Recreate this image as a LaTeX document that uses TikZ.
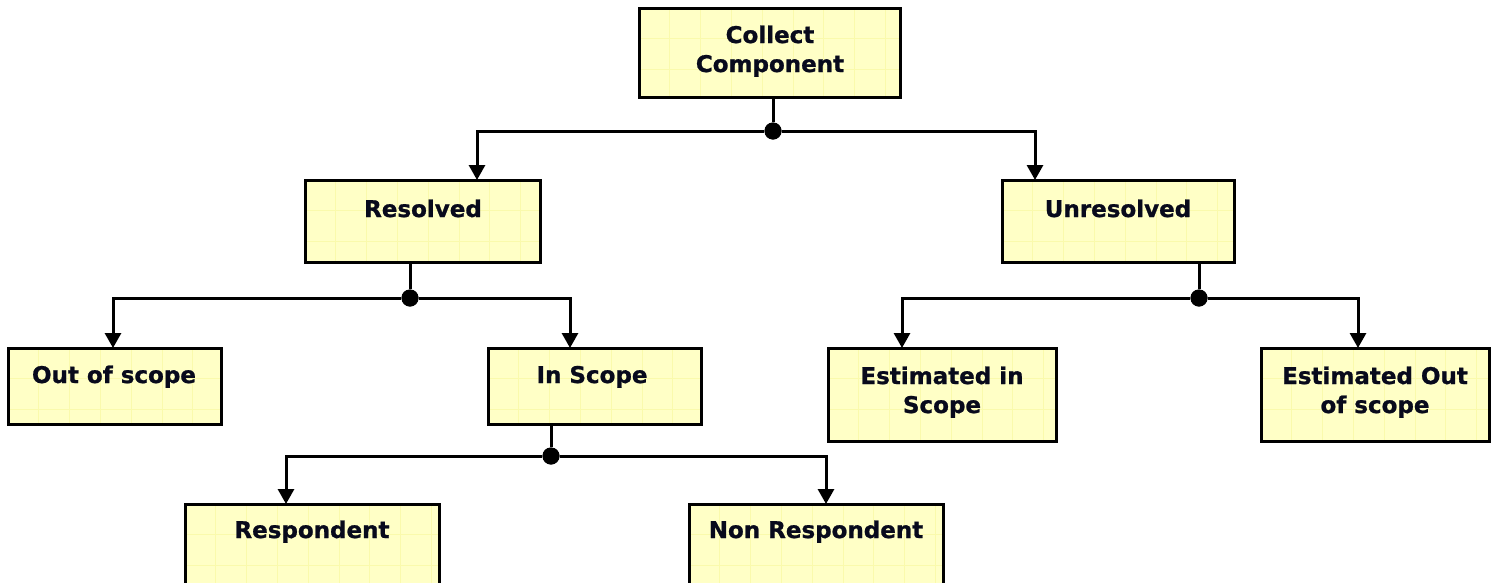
\documentclass[tikz,border=0pt]{standalone}
\usepackage{fontspec}
\setmainfont{DejaVu Sans}
\newfontfamily\lblfont{DejaVu Sans Bold}[FakeBold=1]
\usetikzlibrary{arrows.meta}
\definecolor{boxfill}{RGB}{255,255,198}
\definecolor{gridcol}{RGB}{250,250,172}
\definecolor{inkcol}{RGB}{8,10,28}
\tikzset{
  ybox/.style={fill=boxfill, rectangle, inner sep=0pt, anchor=north west},
  boxline/.style={draw=black, line width=3pt},
  gridline/.style={draw=gridcol, line width=1pt},
  lbl/.style={font=\lblfont\fontsize{23}{29}\selectfont, text=inkcol, align=center,
    anchor=base, inner sep=0pt},
  conn/.style={draw=black, line width=3pt},
  arr/.style={conn, -{Triangle[width=16pt,length=15pt]}},
  dot/.style={circle, fill=black, inner sep=0pt, minimum size=17pt},
}
% faint grid inside a box, aligned with its top left corner, then its border
\newcommand\gridbox[1]{%
  \begin{scope}[shift={(#1.north west)}]
    \clip (#1.north west) rectangle (#1.south east);
    \foreach \k in {1,...,9} {
      \draw[gridline] (30.8*\k,0) -- (30.8*\k,200);
    }
    \foreach \k in {1,...,4} {
      \draw[gridline] (0,30.8*\k) -- (400,30.8*\k);
    }
  \end{scope}
  \draw[boxline] (#1.north west) rectangle (#1.south east);}
\begin{document}
\begin{tikzpicture}[x=1pt,y=-1pt]
\useasboundingbox (0,0) rectangle (1496,582);
\clip (0,0) rectangle (1496,582);

% boxes
\node[ybox, minimum width=261, minimum height=89] (cc) at (639,8) {};
\node[ybox, minimum width=235, minimum height=82] (res) at (305,180) {};
\node[ybox, minimum width=232, minimum height=82] (unr) at (1002,180) {};
\node[ybox, minimum width=213, minimum height=76] (out) at (8,348) {};
\node[ybox, minimum width=213, minimum height=76] (ins) at (488,348) {};
\node[ybox, minimum width=228, minimum height=93] (eis) at (828,348) {};
\node[ybox, minimum width=228, minimum height=93] (eos) at (1261,348) {};
\node[ybox, minimum width=254, minimum height=100] (rsp) at (185,504) {};
\node[ybox, minimum width=254, minimum height=100] (nrs) at (689,504) {};
\gridbox{cc}\gridbox{res}\gridbox{unr}\gridbox{out}\gridbox{ins}
\gridbox{eis}\gridbox{eos}\gridbox{rsp}\gridbox{nrs}

% labels (anchor is the baseline of the last line)
\node[lbl] (cc-t)  at (770,72)   {Collect\\Component};
\node[lbl] (res-t) at (423,217)  {Resolved};
\node[lbl] (unr-t) at (1118,217) {Unresolved};
\node[lbl] (out-t) at (114,383)  {Out of scope};
\node[lbl] (ins-t) at (592,383)  {In Scope};
\node[lbl] (eis-t) at (942,413)  {Estimated in\\Scope};
\node[lbl] (eos-t) at (1375,413) {Estimated Out\\of scope};
\node[lbl] (rsp-t) at (312,538)  {Respondent};
\node[lbl] (nrs-t) at (816,538)  {Non Respondent};

% junctions
\node[dot] (j1) at (773,131) {};
\node[dot] (j2) at (410,298) {};
\node[dot] (j3) at (1199,298) {};
\node[dot] (j4) at (551,456) {};

% branch corners
\coordinate (c1l) at (477,131);  \coordinate (c1r) at (1035,131);
\coordinate (c2l) at (113,298);  \coordinate (c2r) at (570,298);
\coordinate (c3l) at (902,298);  \coordinate (c3r) at (1358,298);
\coordinate (c4l) at (286,456);  \coordinate (c4r) at (826,456);

% stems from parents
\draw[conn] (j1 |- cc.south) -- (j1);
\draw[conn] (j2 |- res.south) -- (j2);
\draw[conn] (j3 |- unr.south) -- (j3);
\draw[conn] (j4 |- ins.south) -- (j4);

% branches to children
\draw[arr] (j1) -- (c1l) -- (c1l |- res.north);
\draw[arr] (j1) -- (c1r) -- (c1r |- unr.north);
\draw[arr] (j2) -- (c2l) -- (c2l |- out.north);
\draw[arr] (j2) -- (c2r) -- (c2r |- ins.north);
\draw[arr] (j3) -- (c3l) -- (c3l |- eis.north);
\draw[arr] (j3) -- (c3r) -- (c3r |- eos.north);
\draw[arr] (j4) -- (c4l) -- (c4l |- rsp.north);
\draw[arr] (j4) -- (c4r) -- (c4r |- nrs.north);

% dots on top of the lines
\fill (j1) circle (8.5);
\fill (j2) circle (8.5);
\fill (j3) circle (8.5);
\fill (j4) circle (8.5);
\end{tikzpicture}
\end{document}
